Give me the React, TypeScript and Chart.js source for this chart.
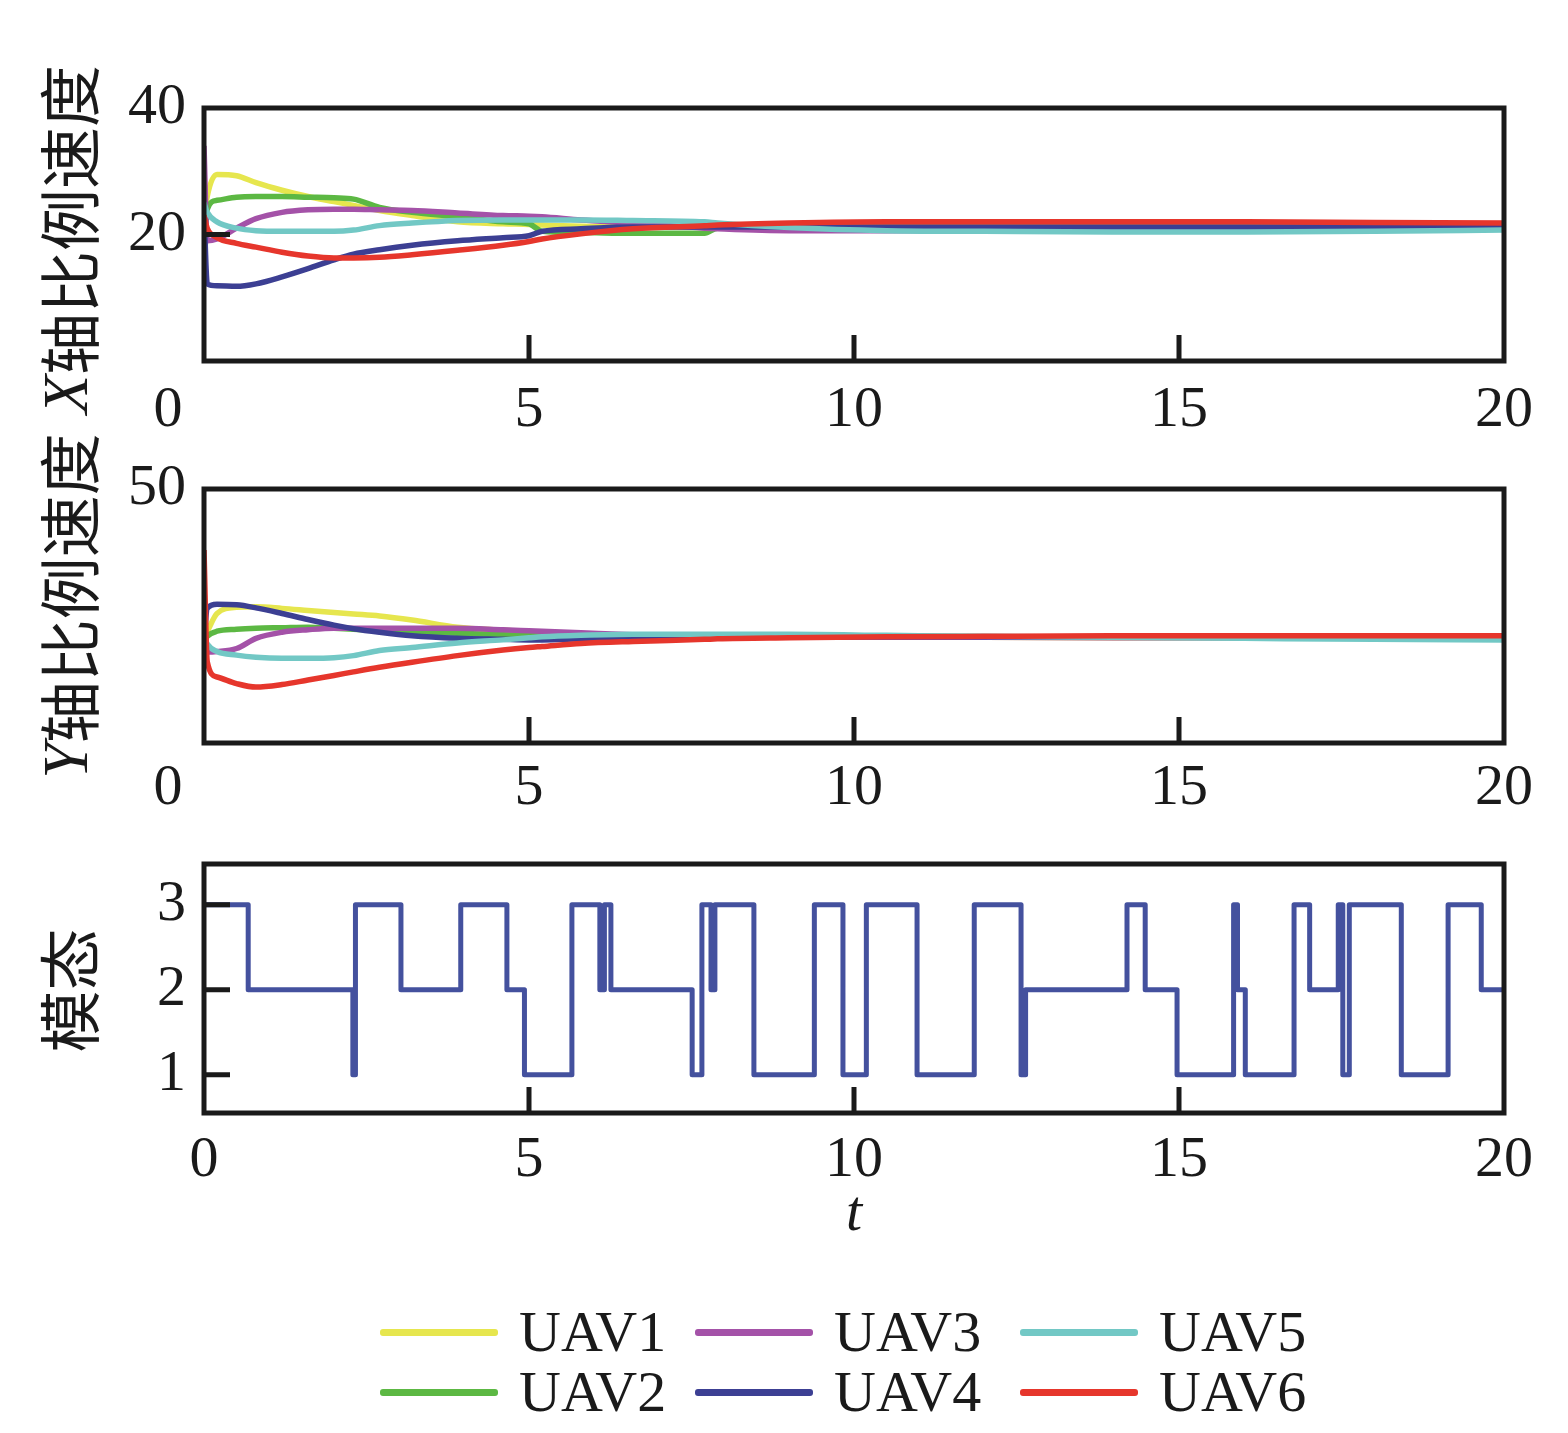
import { useEffect, useRef } from 'react';
import { Chart, registerables } from 'chart.js';

Chart.register(...registerables);

// ---- data -------------------------------------------------------------
const tGrid = [0, 0.05, 0.2, 0.5, 0.8, 1.2, 1.6, 2.0, 2.3, 2.7, 3.2, 3.9, 4.6, 5.0, 5.2, 5.8, 6.6, 7.7, 7.9, 9.0, 10.5, 12, 14, 16, 18, 20];

// X轴比例速度
const xUav1 = [22, 26, 29.5, 29.3, 28.2, 27, 26, 25.2, 24.6, 23.8, 23, 22, 21.7, 21.6, 21.5, 21.3, 21.2, 21.2, 21.2, 21.2, 21.3, 21.3, 21.3, 21.3, 21.3, 21.3];
const xUav2 = [13, 24, 25.4, 25.9, 26, 26, 25.9, 25.8, 25.6, 24.3, 23.5, 22.8, 22, 21.7, 20.5, 20.3, 20.2, 20.2, 21, 21.1, 21.1, 21.1, 21.1, 21.1, 21.1, 21.1];
const xUav3 = [34, 19, 19.3, 21, 22.5, 23.5, 23.9, 24, 24, 23.9, 23.8, 23.4, 23, 22.9, 22.8, 22.3, 21.8, 21, 20.9, 20.6, 20.6, 20.7, 20.6, 20.6, 20.8, 21];
const xUav4 = [24, 12.2, 11.9, 11.8, 12.2, 13.3, 14.6, 16, 16.9, 17.6, 18.3, 19, 19.5, 19.8, 20.5, 20.9, 21.2, 21.2, 21.2, 21.2, 21.2, 21.2, 21.2, 21.2, 21.2, 21.2];
const xUav5 = [25, 23.5, 22, 21, 20.6, 20.5, 20.5, 20.5, 20.7, 21.4, 21.8, 22.2, 22.3, 22.3, 22.3, 22.3, 22.2, 22, 21.8, 21.1, 20.6, 20.5, 20.4, 20.4, 20.5, 20.7];
const xUav6 = [23, 21, 19.5, 18.6, 18, 17.2, 16.6, 16.3, 16.3, 16.4, 16.8, 17.5, 18.3, 18.9, 19.3, 20.1, 20.9, 21.4, 21.5, 21.8, 22, 22, 22, 22, 21.9, 21.8];

// Y轴比例速度
const yUav1 = [21, 22, 25.5, 26.7, 26.8, 26.5, 26.1, 25.7, 25.4, 25, 24.2, 22.8, 22.2, 21.9, 21.8, 21.4, 21.1, 21, 21, 20.9, 20.8, 20.8, 20.7, 20.7, 20.6, 20.6];
const yUav2 = [20, 21, 22, 22.4, 22.6, 22.7, 22.8, 22.6, 22.4, 22.1, 21.9, 21.6, 21.3, 21.2, 21.1, 21, 21, 21, 21, 21, 21, 20.9, 20.9, 20.8, 20.8, 20.8];
const yUav3 = [19, 17.9, 18, 18.6, 20.6, 21.8, 22.3, 22.6, 22.6, 22.6, 22.6, 22.6, 22.3, 22.1, 22, 21.7, 21.3, 21, 21, 20.9, 20.8, 20.8, 20.7, 20.7, 20.6, 20.6];
const yUav4 = [20, 26.5, 27.3, 27.2, 26.6, 25.5, 24.3, 23.2, 22.5, 21.8, 21.1, 20.6, 20.4, 20.3, 20.3, 20.5, 20.7, 20.8, 20.8, 20.9, 20.9, 20.9, 20.9, 21, 21, 21];
const yUav5 = [21, 19.5, 18, 17.3, 16.9, 16.7, 16.7, 16.8, 17.2, 18.2, 18.8, 19.7, 20.3, 20.7, 20.9, 21.2, 21.4, 21.4, 21.4, 21.4, 21.2, 21, 20.8, 20.6, 20.4, 20.3];
const yUav6 = [38, 16, 13, 11.7, 11, 11.5, 12.4, 13.3, 14, 14.9, 15.9, 17.2, 18.3, 18.8, 19, 19.6, 20, 20.4, 20.5, 20.7, 20.9, 21, 21.1, 21.1, 21.1, 21.1];

// 模态 (value switches at the given time)
const modeTimes = [0, 0.68, 2.29, 2.33, 3.03, 3.95, 4.66, 4.93, 5.66, 6.09, 6.16, 6.26, 7.51, 7.66, 7.8, 7.86, 8.46, 9.39, 9.83, 10.19, 10.97, 11.85, 12.57, 12.64, 14.2, 14.48, 14.97, 15.84, 15.9, 16.02, 16.77, 17.01, 17.45, 17.52, 17.62, 18.42, 19.14, 19.65, 20];
const modeValues = [3, 2, 1, 3, 2, 3, 2, 1, 3, 2, 3, 2, 1, 3, 2, 3, 1, 3, 1, 3, 1, 3, 1, 2, 3, 2, 1, 3, 2, 1, 3, 2, 3, 1, 3, 1, 3, 2, 2];

const uavNames = ['UAV1', 'UAV2', 'UAV3', 'UAV4', 'UAV5', 'UAV6'];
const uavColors = ['#e6e64e', '#5cb843', '#a452a8', '#3c3f93', '#72c8c5', '#e6362c'];
const modeColor = '#44519e';

const xTickValues = [0, 5, 10, 15, 20];
const xVelTicks = [20, 40];
const yVelTicks = [50];
const modeTicks = [1, 2, 3];

// ---- styling ----------------------------------------------------------
const INK = '#1a1a1a';
const SERIF = '"Liberation Serif", "Times New Roman", serif';
const CJK = '"Noto Sans CJK SC", sans-serif';
const TICK_FONT = 58;

type TitlePart = { text: string; italic?: boolean; cjk?: boolean };

const framePlugin = {
  id: 'frameTicks',
  afterDraw(chart: any, _args: any, opts: any) {
    const { ctx, chartArea: a, scales } = chart;
    const xs = scales.x;
    const ys = scales.y;
    ctx.save();
    ctx.strokeStyle = INK;
    ctx.lineWidth = 5;
    ctx.beginPath();
    xs.ticks.forEach((t: any) => {
      const px = xs.getPixelForValue(t.value);
      if (px > a.left + 4 && px < a.right - 4) {
        ctx.moveTo(px, a.bottom);
        ctx.lineTo(px, a.bottom - 26);
      }
    });
    ys.ticks.forEach((t: any) => {
      const py = ys.getPixelForValue(t.value);
      if (py > a.top + 4 && py < a.bottom - 4) {
        ctx.moveTo(a.left, py);
        ctx.lineTo(a.left + 26, py);
      }
    });
    ctx.stroke();
    ctx.strokeRect(a.left, a.top, a.right - a.left, a.bottom - a.top);

    // shifted "0" label of the upper panels
    if (opts.zeroLabel) {
      ctx.fillStyle = INK;
      ctx.font = `${TICK_FONT}px ${SERIF}`;
      ctx.textAlign = 'center';
      ctx.textBaseline = 'middle';
      ctx.fillText('0', xs.getPixelForValue(0) - 36, xs.top + opts.tickPad + (TICK_FONT * 1.2) / 2);
    }

    // rotated y title with mixed fonts
    const parts: TitlePart[] = opts.title || [];
    if (parts.length) {
      const fonts = parts.map((p) => (p.cjk ? `62px ${CJK}` : `${p.italic ? 'italic ' : ''}64px ${SERIF}`));
      const widths = parts.map((p, i) => {
        ctx.font = fonts[i];
        return ctx.measureText(p.text).width;
      });
      const total = widths.reduce((s, w) => s + w, 0);
      ctx.translate(70, (a.top + a.bottom) / 2 + opts.titleShift);
      ctx.rotate(-Math.PI / 2);
      ctx.fillStyle = INK;
      ctx.textAlign = 'left';
      ctx.textBaseline = 'middle';
      let x = -total / 2;
      parts.forEach((p, i) => {
        ctx.font = fonts[i];
        ctx.fillText(p.text, x, 0);
        x += widths[i];
      });
    }
    ctx.restore();
  },
};

interface PanelProps {
  top: number;
  height: number;
  padTop: number;
  axisHeight: number;
  datasets: any[];
  yMin: number;
  yMax: number;
  yTicks: number[];
  title: TitlePart[];
  titleShift: number;
  tickPad: number;
  hideZero: boolean;
  xTitle?: string;
}

function Panel(p: PanelProps) {
  const canvasRef = useRef<HTMLCanvasElement>(null);
  const chartRef = useRef<Chart | null>(null);

  useEffect(() => {
    if (!canvasRef.current) return;
    const ctx = canvasRef.current.getContext('2d');
    if (!ctx) return;

    const tickFont = { family: SERIF, size: TICK_FONT };

    chartRef.current?.destroy();
    chartRef.current = new Chart(ctx, {
      type: 'line',
      data: { datasets: p.datasets },
      options: {
        animation: false,
        responsive: false,
        maintainAspectRatio: false,
        layout: { padding: { top: p.padTop, right: 64, left: 0, bottom: 0 } },
        elements: { point: { radius: 0 } },
        plugins: {
          legend: { display: false },
          tooltip: { enabled: false },
          frameTicks: { title: p.title, titleShift: p.titleShift, zeroLabel: p.hideZero, tickPad: p.tickPad },
        } as any,
        scales: {
          x: {
            type: 'linear',
            min: 0,
            max: 20,
            afterBuildTicks: (s: any) => { s.ticks = xTickValues.map((v) => ({ value: v })); },
            afterFit: (s: any) => { s.height = p.axisHeight; },
            grid: { display: false, drawTicks: false },
            border: { display: false },
            ticks: {
              color: INK,
              font: tickFont,
              padding: p.tickPad,
              maxRotation: 0,
              autoSkip: false,
              callback: (v: any) => (p.hideZero && Number(v) === 0 ? '' : String(v)),
            },
            title: p.xTitle
              ? {
                  display: true,
                  text: p.xTitle,
                  color: INK,
                  font: { family: SERIF, size: TICK_FONT, style: 'italic' },
                  padding: { top: 0, bottom: 50 },
                }
              : { display: false },
          },
          y: {
            type: 'linear',
            min: p.yMin,
            max: p.yMax,
            afterBuildTicks: (s: any) => { s.ticks = p.yTicks.map((v) => ({ value: v })); },
            afterFit: (s: any) => { s.width = 204; },
            grid: { display: false, drawTicks: false },
            border: { display: false },
            ticks: { color: INK, font: tickFont, padding: 18, callback: (v: any) => String(v) },
          },
        },
      },
      plugins: [framePlugin],
    } as any);

    return () => { chartRef.current?.destroy(); };
  }, [p]);

  return (
    <canvas
      ref={canvasRef}
      width={1568}
      height={p.height}
      style={{ position: 'absolute', left: 0, top: p.top, width: 1568, height: p.height }}
    />
  );
}

const velocityDatasets = (series: number[][]) =>
  series.map((vals, i) => ({
    label: uavNames[i],
    data: tGrid.map((t, k) => ({ x: t, y: vals[k] })),
    borderColor: uavColors[i],
    borderWidth: 5.5,
    borderJoinStyle: 'round',
    cubicInterpolationMode: 'monotone',
    fill: false,
    order: series.length - i,
  }));

const xPanel: PanelProps = {
  top: 0,
  height: 460,
  padTop: 108,
  axisHeight: 99,
  datasets: velocityDatasets([xUav1, xUav2, xUav3, xUav4, xUav5, xUav6]),
  yMin: 0,
  yMax: 40,
  yTicks: xVelTicks,
  title: [{ text: 'X', italic: true }, { text: '轴比例速度', cjk: true }],
  titleShift: 5,
  tickPad: 15,
  hideZero: true,
};

const yPanel: PanelProps = {
  top: 420,
  height: 440,
  padTop: 69,
  axisHeight: 117,
  datasets: velocityDatasets([yUav1, yUav2, yUav3, yUav4, yUav5, yUav6]),
  yMin: 0,
  yMax: 50,
  yTicks: yVelTicks,
  title: [{ text: 'Y', italic: true }, { text: '轴比例速度', cjk: true }],
  titleShift: -10,
  tickPad: 11,
  hideZero: true,
};

const modePanel: PanelProps = {
  top: 790,
  height: 510,
  padTop: 74,
  axisHeight: 187,
  datasets: [
    {
      label: '模态',
      data: modeTimes.map((t, k) => ({ x: t, y: modeValues[k] })),
      borderColor: modeColor,
      borderWidth: 5,
      stepped: 'before',
      borderJoinStyle: 'round',
      fill: false,
    },
  ],
  yMin: 0.55,
  yMax: 3.48,
  yTicks: modeTicks,
  title: [{ text: '模态', cjk: true }],
  titleShift: 2,
  tickPad: 13,
  hideZero: false,
  xTitle: 't',
};

export default function App() {
  return (
    <div style={{ position: 'absolute', left: 0, top: 0, width: 1568, height: 1433, background: '#fff', overflow: 'hidden' }}>
      <Panel {...xPanel} />
      <Panel {...yPanel} />
      <Panel {...modePanel} />
      <div
        style={{
          position: 'absolute',
          left: 380,
          top: 1302,
          display: 'grid',
          gridAutoFlow: 'column',
          gridTemplateRows: '60px 60px',
          gridTemplateColumns: '315px 325px 300px',
        }}
      >
        {uavNames.map((n, i) => (
          <div key={n} style={{ display: 'flex', alignItems: 'center', height: 60 }}>
            <span style={{ display: 'inline-block', width: 118, height: 7, background: uavColors[i], borderRadius: 3, marginRight: 21 }} />
            <span style={{ font: `58px ${SERIF}`, color: INK, lineHeight: '60px' }}>{n}</span>
          </div>
        ))}
      </div>
    </div>
  );
}
